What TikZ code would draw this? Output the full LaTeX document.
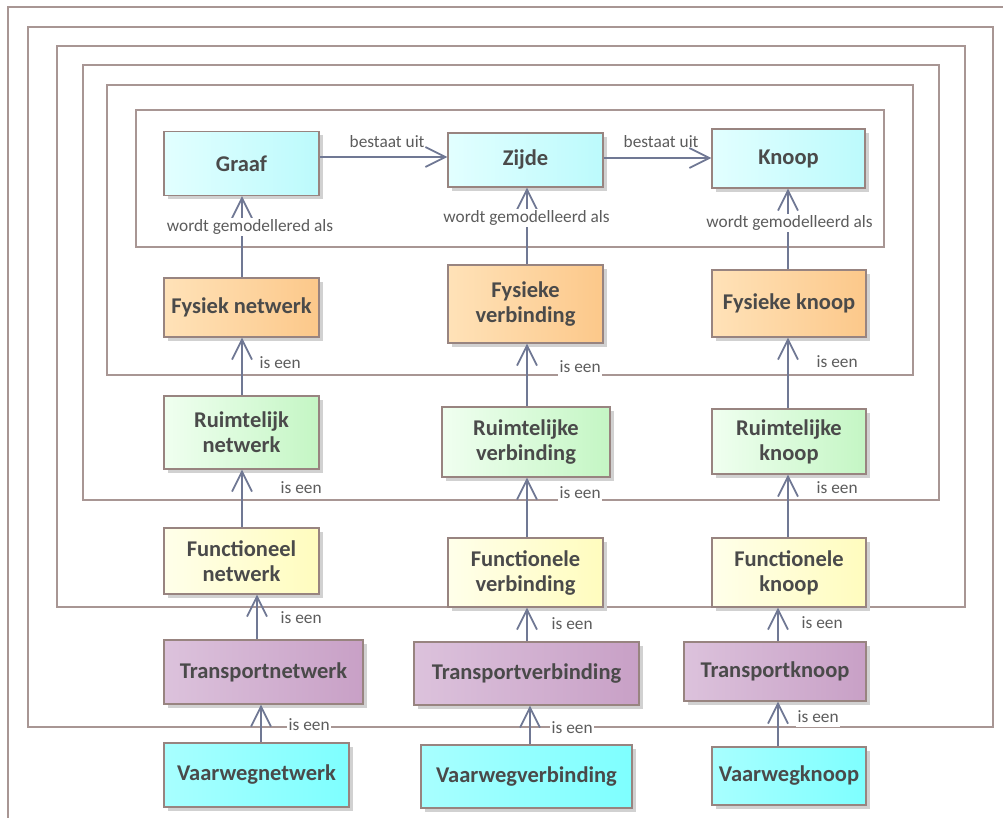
\documentclass[tikz,border=0pt]{standalone}
\usepackage{fontspec}
\setmainfont{Carlito}
\usetikzlibrary{arrows.meta,shadows}
\definecolor{frame}{RGB}{168,150,148}
\definecolor{conn}{RGB}{112,120,148}
\definecolor{txt}{RGB}{74,74,74}
\definecolor{lbl}{RGB}{92,92,92}
\definecolor{bord}{RGB}{152,132,128}
\definecolor{cyLa}{RGB}{226,255,255}\definecolor{cyLb}{RGB}{188,250,252}
\definecolor{ora}{RGB}{255,226,184}\definecolor{orb}{RGB}{252,200,138}
\definecolor{gra}{RGB}{240,255,240}\definecolor{grb}{RGB}{196,246,196}
\definecolor{yea}{RGB}{255,255,234}\definecolor{yeb}{RGB}{255,252,190}
\definecolor{pua}{RGB}{220,194,220}\definecolor{pub}{RGB}{200,160,198}
\definecolor{cySa}{RGB}{168,255,255}\definecolor{cySb}{RGB}{126,255,255}
\begin{document}
\begin{tikzpicture}[x=1pt,y=-1pt,
  box/.style={draw=bord, line width=1.2pt, text=txt, align=center, inner sep=0pt,
    font=\fontsize{22.5}{25}\selectfont\bfseries,
    drop shadow={shadow xshift=4pt, shadow yshift=-4pt, fill=black!18, opacity=1}},
  cyanL/.style={left color=cyLa, right color=cyLb},
  orng/.style={left color=ora, right color=orb},
  grn/.style={left color=gra, right color=grb},
  yel/.style={left color=yea, right color=yeb},
  purp/.style={left color=pua, right color=pub},
  cyanS/.style={left color=cySa, right color=cySb},
  frm/.style={draw=frame, line width=1.6pt},
  arr/.style={draw=conn, line width=1.8pt, -{Straight Barb[length=20pt,width=20pt,line width=1.8pt]}},
  lab/.style={font=\fontsize{17.3}{20}\selectfont, text=lbl, fill=white, inner sep=1.5pt,
    text height=12pt, text depth=3pt, anchor=base west},
  labc/.style={lab, anchor=base},
]
\clip (0,0) rectangle (1003,818);
\fill[white] (0,0) rectangle (1003,818);
% frames
\draw[frm] (8,830) -- (8,7) -- (1020,7);
\draw[frm] (28,27) rectangle (993,727);
\draw[frm] (57,46) rectangle (965,607);
\draw[frm] (83,65) rectangle (939,500);
\draw[frm] (107,85) rectangle (913,375);
\draw[frm] (136,110) rectangle (884,247);
% nodes
\node[box,cyanL,minimum width=155pt,minimum height=64pt] (graaf) at (241.5,163.5) {Graaf};
\node[box,cyanL,minimum width=155pt,minimum height=54pt] (zijde) at (525.5,160) {Zijde};
\node[box,cyanL,minimum width=153pt,minimum height=59pt] (knoop) at (788.5,158.5) {Knoop};
\node[box,orng,minimum width=155pt,minimum height=59pt] (fn) at (241.5,307.5) {Fysiek netwerk};
\node[box,orng,minimum width=155pt,minimum height=78pt] (fv) at (525.5,304) {Fysieke\\verbinding};
\node[box,orng,minimum width=154pt,minimum height=67pt] (fk) at (789,303.5) {Fysieke knoop};
\node[box,grn,minimum width=155pt,minimum height=73pt] (rn) at (241.5,432.5) {Ruimtelijk\\netwerk};
\node[box,grn,minimum width=168pt,minimum height=70pt] (rv) at (526,442) {Ruimtelijke\\verbinding};
\node[box,grn,minimum width=154pt,minimum height=65pt] (rk) at (789,441.5) {Ruimtelijke\\knoop};
\node[box,yel,minimum width=155pt,minimum height=66pt] (un) at (241.5,561) {Functioneel\\netwerk};
\node[box,yel,minimum width=155pt,minimum height=69pt] (uv) at (525.5,572.5) {Functionele\\verbinding};
\node[box,yel,minimum width=154pt,minimum height=69pt] (uk) at (789,572.5) {Functionele\\knoop};
\node[box,purp,minimum width=199pt,minimum height=64pt] (tn) at (263.5,672) {Transportnetwerk};
\node[box,purp,minimum width=225pt,minimum height=63pt] (tv) at (526.5,673.5) {Transportverbinding};
\node[box,purp,minimum width=182pt,minimum height=59pt] (tk) at (775,671.5) {Transportknoop};
\node[box,cyanS,minimum width=185pt,minimum height=64pt] (vn) at (256.5,775) {Vaarwegnetwerk};
\node[box,cyanS,minimum width=211pt,minimum height=63pt] (vv) at (526.5,776.5) {Vaarwegverbinding};
\node[box,cyanS,minimum width=154pt,minimum height=58pt] (vk) at (789,776) {Vaarwegknoop};
% connector columns
\coordinate (c1a) at (242,0);
\coordinate (c1b) at (257,0);
\coordinate (c1c) at (261,0);
\coordinate (c2a) at (527,0);
\coordinate (c2b) at (530,0);
\coordinate (c3a) at (788,0);
\coordinate (c3b) at (778,0);
\draw[arr] (fn.north -| c1a) -- (graaf.south -| c1a);
\draw[arr] (rn.north -| c1a) -- (fn.south -| c1a);
\draw[arr] (un.north -| c1a) -- (rn.south -| c1a);
\draw[arr] (tn.north -| c1b) -- (un.south -| c1b);
\draw[arr] (vn.north -| c1c) -- (tn.south -| c1c);
\draw[arr] (fv.north -| c2a) -- (zijde.south -| c2a);
\draw[arr] (rv.north -| c2a) -- (fv.south -| c2a);
\draw[arr] (uv.north -| c2a) -- (rv.south -| c2a);
\draw[arr] (tv.north -| c2a) -- (uv.south -| c2a);
\draw[arr] (vv.north -| c2b) -- (tv.south -| c2b);
\draw[arr] (fk.north -| c3a) -- (knoop.south -| c3a);
\draw[arr] (rk.north -| c3a) -- (fk.south -| c3a);
\draw[arr] (uk.north -| c3a) -- (rk.south -| c3a);
\draw[arr] (tk.north -| c3b) -- (uk.south -| c3b);
\draw[arr] (vk.north -| c3b) -- (tk.south -| c3b);
% labels
\node[labc] (w1) at (250,232) {wordt gemodellered als};
\node[labc] (w2) at (526.5,223) {wordt gemodelleerd als};
\node[labc] (w3) at (789.5,228) {wordt gemodelleerd als};
\node[lab] (i1) at (258,368) {is een};
\node[lab] (i2) at (279,493) {is een};
\node[lab] (i3) at (279,623) {is een};
\node[lab] (i4) at (287,730) {is een};
\node[lab] (i5) at (558,372) {is een};
\node[lab] (i6) at (558,498) {is een};
\node[lab] (i7) at (550,629) {is een};
\node[lab] (i8) at (550,733) {is een};
\node[lab] (i9) at (815,367) {is een};
\node[lab] (i10) at (815,493) {is een};
\node[lab] (i11) at (800,628) {is een};
\node[lab] (i12) at (796,722) {is een};
\node[lab,fill=none] (b1) at (348,148) {bestaat uit};
\node[lab,fill=none] (b2) at (622,148) {bestaat uit};
\draw[arr] (graaf.east |- 0,157) -- (zijde.west |- 0,157);
\draw[arr] (zijde.east |- 0,158) -- (knoop.west |- 0,158);
\end{tikzpicture}
\end{document}
